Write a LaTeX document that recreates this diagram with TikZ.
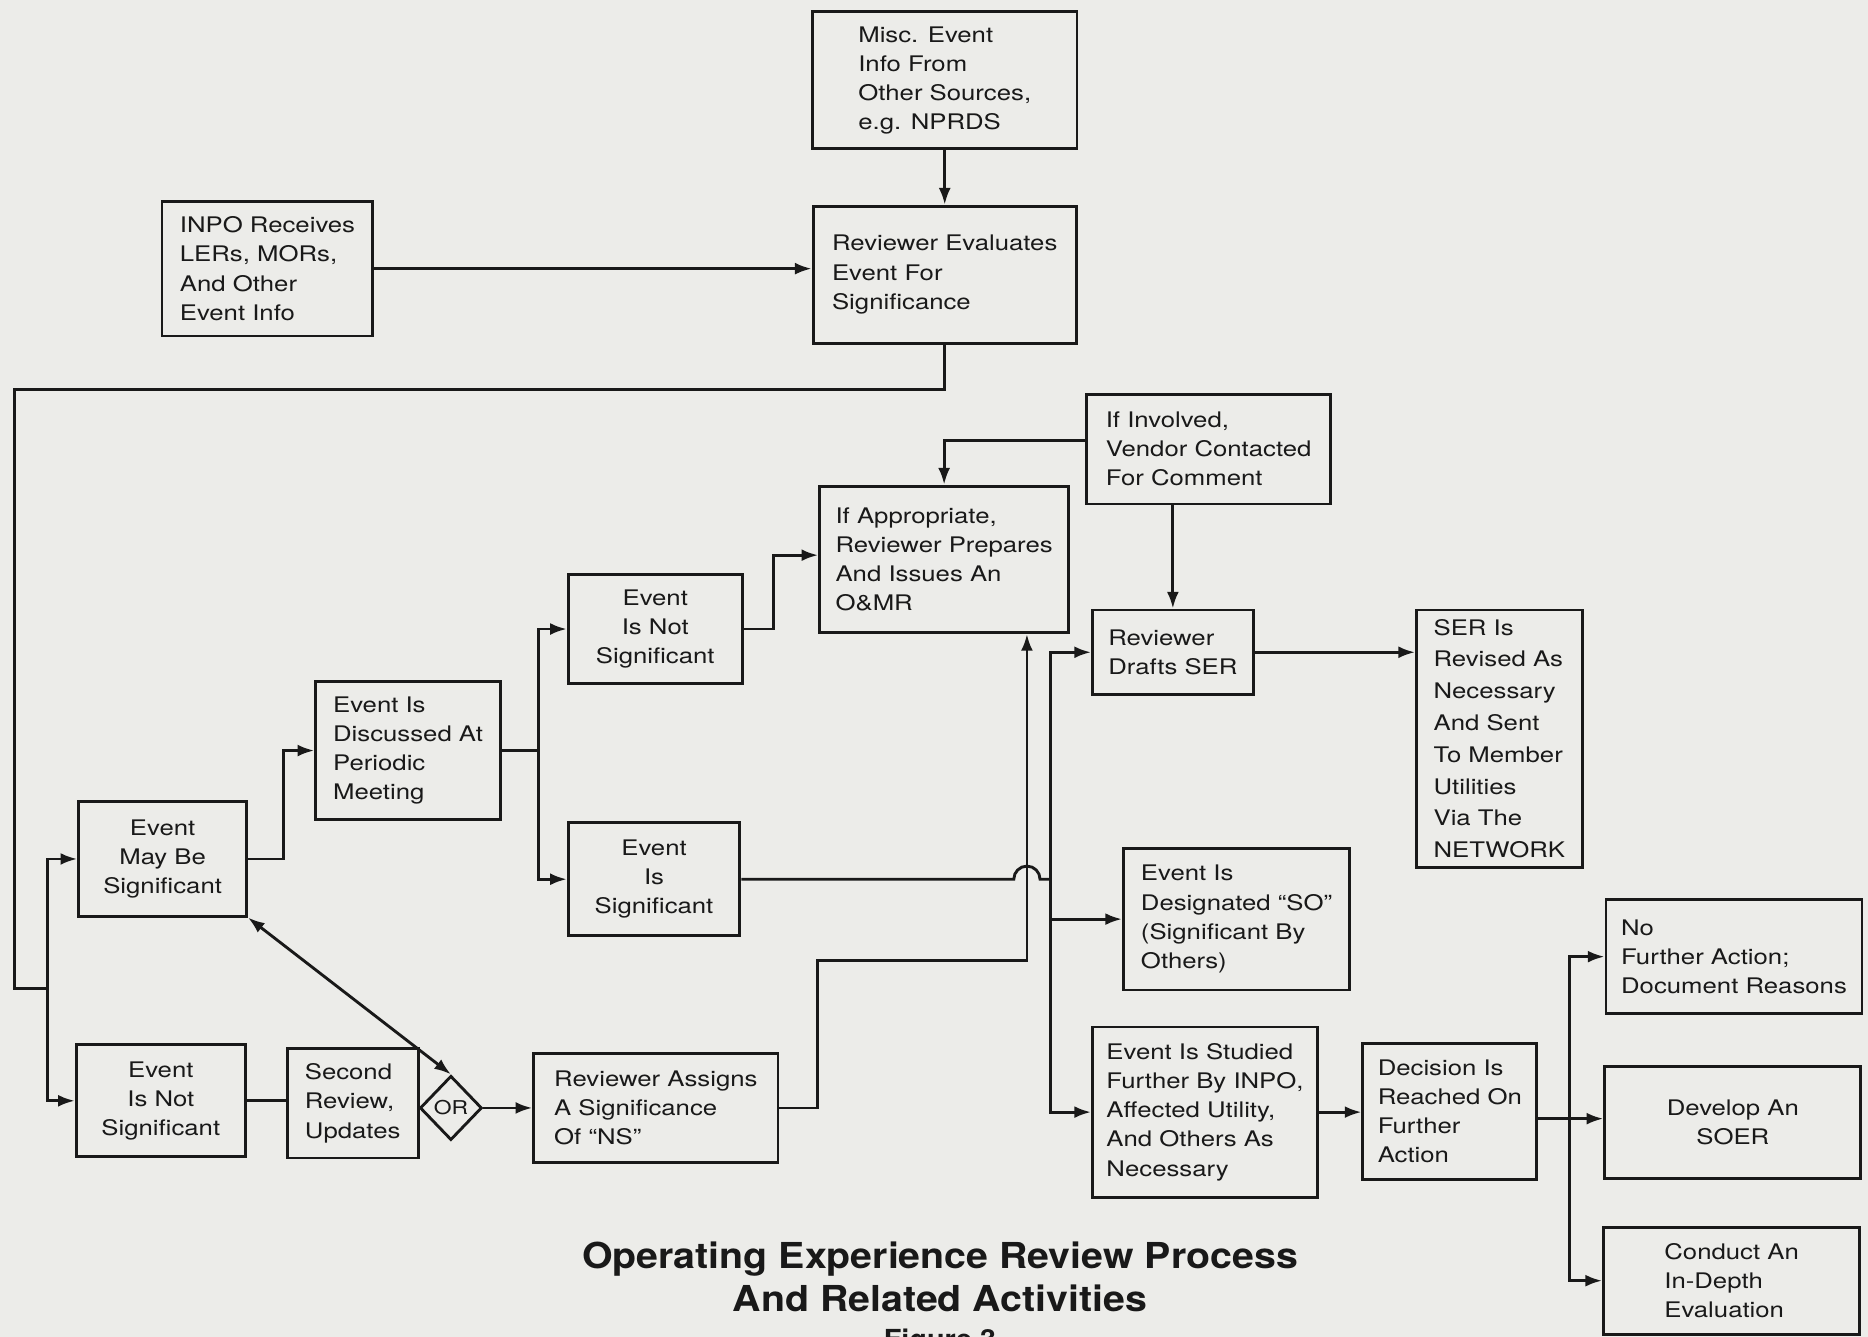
\documentclass[tikz,border=0pt]{standalone}
\usepackage{fontspec}
\setmainfont{TeX Gyre Heros}[FakeStretch=1.2]
\newfontfamily\titlefont{TeX Gyre Heros}[FakeStretch=1.1]
\usetikzlibrary{arrows.meta,shapes.geometric,positioning}

\definecolor{paper}{RGB}{236,236,233}
\definecolor{ink}{RGB}{25,25,25}
\newcommand\boxfont{\fontsize{18}{24.5}\selectfont}

\begin{document}
\begin{tikzpicture}[x=1pt,y=-1pt,line width=2.4pt,color=ink,
    >={Latex[length=14pt,width=10pt]},
    box/.style={draw,rectangle,inner sep=0pt,align=left,font=\boxfont},
    mid/.style={box,align=center},
    dims/.style 2 args={minimum width=#1pt,minimum height=#2pt},
    heading/.style={anchor=base,font=\titlefont\bfseries\fontsize{30}{36}\selectfont}]
    \fill[paper] (0,0) rectangle (1568,1122);
    \useasboundingbox (0,0) rectangle (1568,1122);

    % incoming event information
    \node[box,dims={222}{115}] (misc) at (793,67.5) {Misc. Event\\Info From\\Other Sources,\\e.g. NPRDS};
    \node[box,dims={221}{115}] (eval) at (793,230.5) {Reviewer Evaluates\\Event For\\Significance};
    \node[box,dims={177}{113}] (inpo) at (224.5,225.5) {INPO Receives\\LERs, MORs,\\And Other\\Event Info};

    % first screening
    \node[mid,dims={141}{96}] (maybe) at (136.5,721) {Event\\May Be\\Significant};
    \node[mid,dims={142}{94}] (notsigB) at (135,924) {Event\\Is Not\\Significant};
    \node[box,dims={110}{92}] (second) at (296,926) {Second\\Review,\\Updates};
    \node[diamond,draw,inner sep=0pt,dims={52}{54},font=\fontsize{16}{16}\selectfont] (gate) at (378.5,930) {OR};
    \node[box,dims={205}{92}] (assigns) at (550.5,930) {Reviewer Assigns\\A Significance\\Of “NS”};

    % periodic meeting
    \node[box,dims={155}{116}] (discuss) at (342.5,630) {Event Is\\Discussed At\\Periodic\\Meeting};
    \node[mid,dims={146}{92}] (notsigA) at (550,528) {Event\\Is Not\\Significant};
    \node[mid,dims={144}{95}] (issig) at (549,738) {Event\\Is\\Significant};
    \node[box,dims={209}{123}] (omr) at (792.5,469.5) {If Appropriate,\\Reviewer Prepares\\And Issues An\\O\&MR};
    \node[box,dims={205}{92}] (vendor) at (1014.5,377) {If Involved,\\Vendor Contacted\\For Comment};

    % significant events
    \node[box,dims={135}{71}] (drafts) at (984.5,547.5) {Reviewer\\Drafts SER};
    \node[box,dims={139}{216},font=\fontsize{18}{26.7}\selectfont] (serrev) at (1258.5,620) {SER Is\\Revised As\\Necessary\\And Sent\\To Member\\Utilities\\Via The\\NETWORK};
    \node[box,dims={190}{119}] (so) at (1038,771.5) {Event Is\\Designated “SO”\\(Significant By\\Others)};
    \node[box,dims={189}{143}] (studied) at (1011.5,933.5) {Event Is Studied\\Further By INPO,\\Affected Utility,\\And Others As\\Necessary};
    \node[box,dims={146}{114}] (decision) at (1217,933) {Decision Is\\Reached On\\Further\\Action};
    \node[box,dims={215}{96}] (nofurther) at (1455.5,803) {No\\Further Action;\\Document Reasons};
    \node[mid,dims={215}{94}] (soer) at (1454.5,942) {Develop An\\SOER};
    \node[box,dims={215}{90}] (indepth) at (1453.5,1075) {Conduct An\\In-Depth\\Evaluation};

    \node[heading] (titleA) at (789,1065) {Operating Experience Review Process};
    \node[heading] (titleB) at (789,1101) {And Related Activities};
    \node[heading,font=\titlefont\bfseries\fontsize{22}{24}\selectfont] (figno) at (789,1132) {Figure 3};

    \coordinate (split) at (40,830);
    \coordinate (forkA) at (452,630);
    \coordinate (jog) at (862,806);
    \coordinate (trunk) at (882,738);

    \path[->]
    (misc) edge (eval)
    (inpo) edge (inpo -| eval.west)
    (drafts.north |- vendor.south) edge (drafts)
    (drafts) edge (drafts -| serrev.west)
    (studied) edge (studied -| decision.west)
    (gate) edge (assigns)
    ;

    \draw (eval) |- (12,327) |- (split);
    \draw[->] (split) |- (maybe.west);
    \draw[->] (split) |- (notsigB.west);
    \draw (notsigB) -- (notsigB -| second.west);
    \draw[<->] (maybe.south east) -- (gate.north);

    \draw[->] (maybe.east) -- ++(30,0) |- (discuss.west);
    \draw (discuss.east) -- (forkA);
    \draw[->] (forkA) |- (notsigA.west);
    \draw[->] (forkA) |- (issig.west);
    \draw[->] (notsigA.east) -- ++(25,0) |- ([yshift=3.5pt]omr.west);
    \draw[->] ([yshift=7pt]vendor.west) -| (omr.north);
    \draw[->] (assigns.east) -- ++(32,0) |- (jog) -- (jog |- omr.south);

    % line hops over the NS return
    \draw (issig.east) -- (851,738) arc[start angle=180,end angle=0,radius=11pt] -- (trunk);
    \draw[->] (trunk) |- (drafts.west);
    \draw[->] (trunk) |- (so.west);
    \draw[->] (trunk) |- (studied.west);

    \draw ([yshift=-6pt]decision.east) -- ++(26,0) coordinate (forkB);
    \draw[->] (forkB) |- (nofurther.west);
    \draw[->] (forkB) -- (forkB -| soer.west);
    \draw[->] (forkB) |- (indepth.west);
\end{tikzpicture}
\end{document}
